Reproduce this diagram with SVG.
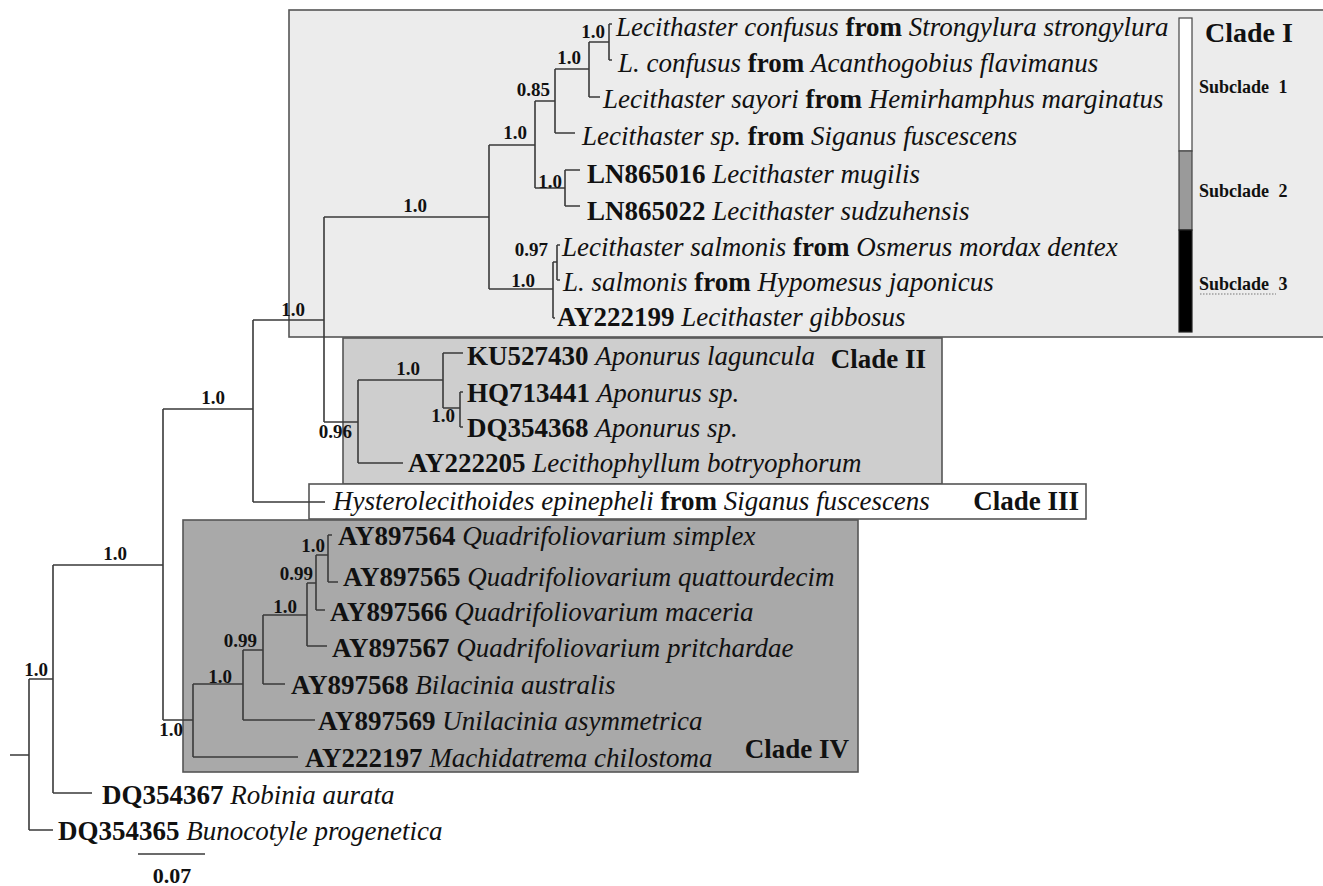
<svg xmlns="http://www.w3.org/2000/svg" width="1323" height="886" viewBox="0 0 1323 886">
<style>
text{font-family:"Liberation Serif","Times New Roman",serif;fill:#111}
.lf{font-size:27px}
.b{font-weight:bold}
.i{font-style:italic}
.sv{font-size:19px;font-weight:bold;text-anchor:end}
.cl{font-size:27px;font-weight:bold}
.sc{font-size:18px;font-weight:bold}
.br{fill:none;stroke:#3a3a3a;stroke-width:1.6}
.box{stroke:#555;stroke-width:1.6}
</style>
<rect width="1323" height="886" fill="#fff"/>
<g id="clade1-box"><rect class="box" x="289" y="10" width="1040" height="327" fill="#ececec"/></g>
<g id="clade2-box"><rect class="box" x="343" y="338" width="599" height="146" fill="#cecece"/></g>
<g id="clade3-box"><rect class="box" x="309" y="484" width="777" height="35" fill="#fff"/></g>
<g id="clade4-box"><rect class="box" x="183" y="520" width="675" height="252" fill="#a9a9a9"/></g>
<g id="subclade-bar">
<rect x="1179" y="18" width="13" height="133" fill="#fff" stroke="#444" stroke-width="1.2"/>
<rect x="1179" y="151" width="13" height="79" fill="#9a9a9a" stroke="#444" stroke-width="1.2"/>
<rect x="1179" y="230" width="13" height="102" fill="#000" stroke="#222" stroke-width="1.2"/>
</g>
<g id="connectors" class="br">
<path d="M609,24V60M609,24H612M609,60H612M589,42H609M589,42V97M589,97H600M555,69H589M555,69V133M555,133H575M535,101H555M565,170V206M565,170H580M565,206H580M535,188H565M535,101V188M489,145H535M557,245V280M557,245H560M557,280H560M553,262V318M553,262H557M553,318H555M489,289H553M489,145V289M324,217H489M324,217V422M324,422H358"/>
<path d="M358,380V463M358,463H403M358,380H443M443,353V408M443,353H463M443,408H460M460,392V427M460,392H463M460,427H463"/>
<path d="M253,502H325M253,320V502M253,320H324M163,409H253M163,409V720M163,720H193M53,565H163M53,565V793M53,793H92M29,679H53M29,679V830M29,830H53M10,755H29"/>
<path d="M193,684V757M193,757H298M193,684H243M243,650V720M243,720H315M243,650H263M263,615V684M263,684H285M263,615H307M307,583V646M307,646H327M307,583H316M316,555V610M316,610H325M316,555H328M328,535V582M328,535H332M328,582H338"/>
<path d="M138,854H205"/>
</g>
<g id="support-values">
<text class="sv" x="605" y="38">1.0</text>
<text class="sv" x="581" y="64">1.0</text>
<text class="sv" x="550" y="96">0.85</text>
<text class="sv" x="527" y="139">1.0</text>
<text class="sv" x="562" y="188">1.0</text>
<text class="sv" x="548" y="256">0.97</text>
<text class="sv" x="535" y="287">1.0</text>
<text class="sv" x="427" y="212">1.0</text>
<text class="sv" x="305" y="316">1.0</text>
<text class="sv" x="420" y="375">1.0</text>
<text class="sv" x="455" y="422">1.0</text>
<text class="sv" x="352" y="438">0.96</text>
<text class="sv" x="225" y="404">1.0</text>
<text class="sv" x="127" y="560">1.0</text>
<text class="sv" x="48" y="676">1.0</text>
<text class="sv" x="183" y="736">1.0</text>
<text class="sv" x="232" y="683">1.0</text>
<text class="sv" x="257" y="647">0.99</text>
<text class="sv" x="297" y="613">1.0</text>
<text class="sv" x="313" y="580">0.99</text>
<text class="sv" x="325" y="552">1.0</text>
</g>
<g id="leaf-confusus-strongylura"><text class="lf" x="616" y="36"><tspan class="i">Lecithaster confusus</tspan> <tspan class="b">from</tspan> <tspan class="i">Strongylura strongylura</tspan></text></g>
<g id="leaf-confusus-acanthogobius"><text class="lf" x="618" y="72"><tspan class="i">L. confusus</tspan> <tspan class="b">from</tspan> <tspan class="i">Acanthogobius flavimanus</tspan></text></g>
<g id="leaf-sayori"><text class="lf" x="603" y="108"><tspan class="i">Lecithaster sayori</tspan> <tspan class="b">from</tspan> <tspan class="i">Hemirhamphus marginatus</tspan></text></g>
<g id="leaf-lecithaster-sp"><text class="lf" x="582" y="145"><tspan class="i">Lecithaster sp.</tspan> <tspan class="b">from</tspan> <tspan class="i">Siganus fuscescens</tspan></text></g>
<g id="leaf-LN865016"><text class="lf" x="587" y="183"><tspan class="b">LN865016</tspan> <tspan class="i">Lecithaster mugilis</tspan></text></g>
<g id="leaf-LN865022"><text class="lf" x="587" y="220"><tspan class="b">LN865022</tspan> <tspan class="i">Lecithaster sudzuhensis</tspan></text></g>
<g id="leaf-salmonis-osmerus"><text class="lf" x="562" y="256"><tspan class="i">Lecithaster salmonis</tspan> <tspan class="b">from</tspan> <tspan class="i">Osmerus mordax dentex</tspan></text></g>
<g id="leaf-salmonis-hypomesus"><text class="lf" x="563" y="291"><tspan class="i">L. salmonis</tspan> <tspan class="b">from</tspan> <tspan class="i">Hypomesus japonicus</tspan></text></g>
<g id="leaf-AY222199"><text class="lf" x="557" y="326"><tspan class="b">AY222199</tspan> <tspan class="i">Lecithaster gibbosus</tspan></text></g>
<g id="clade1-labels">
<text class="cl" x="1205" y="42" style="font-size:28px">Clade I</text>
<text class="sc" x="1199" y="93">Subclade<tspan dx="5"> 1</tspan></text>
<text class="sc" x="1199" y="197">Subclade<tspan dx="5"> 2</tspan></text>
<text class="sc" x="1199" y="290">Subclade<tspan dx="5"> 3</tspan></text>
<line x1="1200" y1="294" x2="1276" y2="294" stroke="#777" stroke-width="1" stroke-dasharray="1.5,1.5"/>
</g>
<g id="leaf-KU527430"><text class="lf" x="467" y="365"><tspan class="b">KU527430</tspan> <tspan class="i">Aponurus laguncula</tspan></text></g>
<g id="leaf-HQ713441"><text class="lf" x="467" y="402"><tspan class="b">HQ713441</tspan> <tspan class="i">Aponurus sp.</tspan></text></g>
<g id="leaf-DQ354368"><text class="lf" x="467" y="437"><tspan class="b">DQ354368</tspan> <tspan class="i">Aponurus sp.</tspan></text></g>
<g id="leaf-AY222205"><text class="lf" x="408" y="472"><tspan class="b">AY222205</tspan> <tspan class="i">Lecithophyllum botryophorum</tspan></text></g>
<g id="clade2-label"><text class="cl" x="926" y="368" text-anchor="end">Clade II</text></g>
<g id="leaf-hysterolecithoides"><text class="lf" x="333" y="510"><tspan class="i">Hysterolecithoides epinepheli</tspan> <tspan class="b">from</tspan> <tspan class="i">Siganus fuscescens</tspan></text></g>
<g id="clade3-label"><text class="cl" x="1079" y="510" text-anchor="end">Clade III</text></g>
<g id="leaf-AY897564"><text class="lf" x="338" y="545"><tspan class="b">AY897564</tspan> <tspan class="i">Quadrifoliovarium simplex</tspan></text></g>
<g id="leaf-AY897565"><text class="lf" x="343" y="586"><tspan class="b">AY897565</tspan> <tspan class="i">Quadrifoliovarium quattourdecim</tspan></text></g>
<g id="leaf-AY897566"><text class="lf" x="330" y="621"><tspan class="b">AY897566</tspan> <tspan class="i">Quadrifoliovarium maceria</tspan></text></g>
<g id="leaf-AY897567"><text class="lf" x="332" y="657"><tspan class="b">AY897567</tspan> <tspan class="i">Quadrifoliovarium pritchardae</tspan></text></g>
<g id="leaf-AY897568"><text class="lf" x="291" y="694"><tspan class="b">AY897568</tspan> <tspan class="i">Bilacinia australis</tspan></text></g>
<g id="leaf-AY897569"><text class="lf" x="318" y="730"><tspan class="b">AY897569</tspan> <tspan class="i">Unilacinia asymmetrica</tspan></text></g>
<g id="leaf-AY222197"><text class="lf" x="305" y="767"><tspan class="b">AY222197</tspan> <tspan class="i">Machidatrema chilostoma</tspan></text></g>
<g id="clade4-label"><text class="cl" x="849" y="758" text-anchor="end">Clade IV</text></g>
<g id="leaf-DQ354367"><text class="lf" x="102" y="804"><tspan class="b">DQ354367</tspan> <tspan class="i">Robinia aurata</tspan></text></g>
<g id="leaf-DQ354365"><text class="lf" x="58" y="840"><tspan class="b">DQ354365</tspan> <tspan class="i">Bunocotyle progenetica</tspan></text></g>
<g id="scale-bar"><text x="172" y="883" text-anchor="middle" style="font-size:22px;font-weight:bold">0.07</text></g>
</svg>
